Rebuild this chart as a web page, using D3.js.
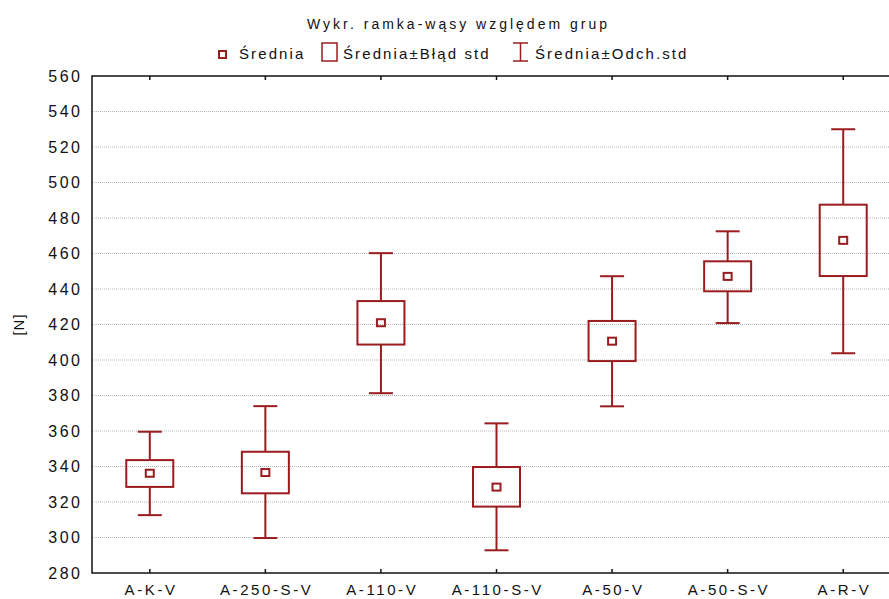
<!DOCTYPE html>
<html>
<head>
<meta charset="utf-8">
<script src="https://cdn.jsdelivr.net/npm/d3@7"></script>
<style>
  body { margin: 0; background: #fff; }
  svg text { font-family: "Liberation Sans", Arial, sans-serif; fill: #111; }
</style>
</head>
<body>
<svg id="chart" width="889" height="599"></svg>
<script>
// box-whisker by group: mean, mean±SE, mean±SD
const groups = ["A-K-V", "A-250-S-V", "A-110-V", "A-110-S-V", "A-50-V", "A-50-S-V", "A-R-V"];
const means = [336.2, 336.6, 421.0, 328.4, 410.6, 447.1, 467.4];
const seLow = [328.5, 324.9, 408.7, 317.4, 399.4, 438.7, 447.3];
const seHigh = [343.6, 348.3, 433.2, 339.7, 422.0, 455.6, 487.5];
const sdLow = [312.6, 299.7, 381.3, 292.8, 373.9, 420.8, 403.8];
const sdHigh = [359.6, 374.0, 460.2, 364.3, 447.2, 472.5, 530.0];
const yTicks = [280, 300, 320, 340, 360, 380, 400, 420, 440, 460, 480, 500, 520, 540, 560];

const color = "#9a1c1f";
const plotL = 92, plotR = 901, plotT = 76, plotB = 573;

const svg = d3.select("#chart");

const x = d3.scaleBand().domain(groups).range([plotL, plotR]);
const y = d3.scaleLinear().domain([280, 560]).range([plotB, plotT]);

// grid lines
svg.append("g")
    .selectAll("line")
    .data(yTicks.filter(d => d > 280 && d < 560))
    .join("line")
    .attr("x1", plotL)
    .attr("x2", plotR)
    .attr("y1", d => y(d))
    .attr("y2", d => y(d))
    .attr("stroke", "#b5b5b5")
    .attr("stroke-width", 1)
    .attr("stroke-dasharray", "1,1");

// frame
svg.append("rect")
    .attr("x", plotL)
    .attr("y", plotT)
    .attr("width", plotR - plotL)
    .attr("height", plotB - plotT)
    .attr("fill", "none")
    .attr("stroke", "#111")
    .attr("stroke-width", 1.5);

// y axis
const yAxis = svg.append("g")
    .attr("transform", `translate(${plotL},0)`)
    .call(d3.axisLeft(y).tickValues(yTicks).tickSize(0).tickPadding(12));
yAxis.select(".domain").remove();
yAxis.selectAll("text")
    .attr("dx", "2.5px")
    .style("font-size", "16px")
    .style("letter-spacing", "2.5px");

// x axis (inner ticks)
const xAxis = svg.append("g")
    .attr("transform", `translate(0,${plotB})`)
    .call(d3.axisBottom(x).tickSizeInner(-4).tickSizeOuter(0).tickPadding(11));
xAxis.select(".domain").remove();
xAxis.selectAll("line").attr("stroke", "#111").attr("stroke-width", 1.5);
xAxis.selectAll("text")
    .attr("dx", "1.3px")
    .style("font-size", "15px")
    .style("letter-spacing", "2.6px");

svg.append("g")
    .selectAll("line")
    .data(groups)
    .join("line")
    .attr("x1", d => x(d) + x.bandwidth() / 2)
    .attr("x2", d => x(d) + x.bandwidth() / 2)
    .attr("y1", plotT)
    .attr("y2", plotT + 4)
    .attr("stroke", "#111")
    .attr("stroke-width", 1.5);

// y label
svg.append("text")
    .attr("transform", `translate(24,${y(420)}) rotate(-90)`)
    .attr("text-anchor", "middle")
    .style("font-size", "15px")
    .style("letter-spacing", "1px")
    .text("[N]");

// boxes
const boxW = 47, capW = 24, meanW = 8;
const g = svg.append("g").attr("stroke", color).attr("stroke-width", 2).attr("fill", "none");
groups.forEach((grp, i) => {
    const cx = x(grp) + x.bandwidth() / 2;
    g.append("line").attr("x1", cx).attr("x2", cx).attr("y1", y(sdHigh[i])).attr("y2", y(seHigh[i]));
    g.append("line").attr("x1", cx).attr("x2", cx).attr("y1", y(seLow[i])).attr("y2", y(sdLow[i]));
    g.append("line").attr("x1", cx - capW / 2).attr("x2", cx + capW / 2).attr("y1", y(sdHigh[i])).attr("y2", y(sdHigh[i]));
    g.append("line").attr("x1", cx - capW / 2).attr("x2", cx + capW / 2).attr("y1", y(sdLow[i])).attr("y2", y(sdLow[i]));
    g.append("rect")
        .attr("x", cx - boxW / 2)
        .attr("y", y(seHigh[i]))
        .attr("width", boxW)
        .attr("height", y(seLow[i]) - y(seHigh[i]));
    g.append("rect")
        .attr("x", cx - meanW / 2)
        .attr("y", y(means[i]) - 3.5)
        .attr("width", meanW)
        .attr("height", 7);
});

// title
svg.append("text")
    .attr("x", 457)
    .attr("y", 29)
    .attr("text-anchor", "middle")
    .attr("dx", "1.5px")
    .style("font-size", "14px")
    .style("letter-spacing", "3px")
    .text("Wykr. ramka-wąsy względem grup");

// legend
const leg = svg.append("g");
const legFont = "15px", legSp = "2.1px";
leg.append("rect").attr("x", 219).attr("y", 51).attr("width", 7).attr("height", 7)
    .attr("fill", "none").attr("stroke", color).attr("stroke-width", 2);
leg.append("text").attr("x", 239).attr("y", 59).style("font-size", legFont).style("letter-spacing", legSp).text("Średnia");
leg.append("rect").attr("x", 322).attr("y", 43).attr("width", 15).attr("height", 18)
    .attr("fill", "none").attr("stroke", color).attr("stroke-width", 1.5);
leg.append("text").attr("x", 343).attr("y", 59).style("font-size", legFont).style("letter-spacing", legSp).text("Średnia±Błąd std");
const wg = leg.append("g").attr("stroke", color).attr("stroke-width", 1.5);
wg.append("line").attr("x1", 513).attr("x2", 528).attr("y1", 43).attr("y2", 43);
wg.append("line").attr("x1", 513).attr("x2", 528).attr("y1", 61).attr("y2", 61);
wg.append("line").attr("x1", 520.5).attr("x2", 520.5).attr("y1", 43).attr("y2", 61);
leg.append("text").attr("x", 535).attr("y", 59).style("font-size", legFont).style("letter-spacing", legSp).text("Średnia±Odch.std");
</script>
</body>
</html>
